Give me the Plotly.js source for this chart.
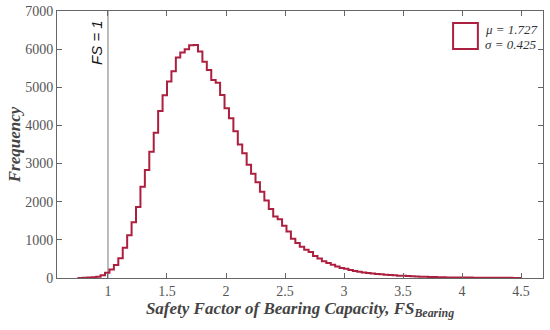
<!DOCTYPE html>
<html>
<head>
<meta charset="utf-8">
<script src="https://cdn.plot.ly/plotly-3.0.1.min.js"></script>
<style>html,body{margin:0;padding:0;background:#fff;}#chart{width:550px;height:330px;}</style>
</head>
<body>
<div id="chart"></div>
<script>
// Histogram: 100 bins from 0.75 to 4.5 (width 0.0375)
const binStart = 0.75;
const binWidth = 0.0375;
const counts = [
  3, 5, 10, 18, 35, 70, 140, 220, 340, 520,
  790, 1120, 1460, 1860, 2390, 2830, 3310, 3810, 4380, 4790,
  5150, 5420, 5780, 5910, 6000, 6100, 6110, 5940, 5670, 5450,
  5190, 5120, 4800, 4450, 4190, 3850, 3500, 3270, 2970, 2730,
  2510, 2260, 2030, 1810, 1610, 1540, 1370, 1220, 1030, 920,
  820, 740, 680, 580, 510, 440, 390, 345, 300, 260,
  240, 210, 185, 165, 145, 130, 118, 108, 98, 88,
  80, 72, 62, 56, 50, 44, 38, 34, 30, 26,
  23, 20, 18, 16, 14, 13, 12, 11, 10, 9,
  8, 7, 7, 6, 5, 5, 4, 4, 3, 3
];
const xTicks = [1, 1.5, 2, 2.5, 3, 3.5, 4, 4.5];
const xTickLabels = ["1", "1.5", "2", "2.5", "3", "3.5", "4", "4.5"];
const yTicks = [0, 1000, 2000, 3000, 4000, 5000, 6000, 7000];
const yTickLabels = ["0", "1000", "2000", "3000", "4000", "5000", "6000", "7000"];
const legendLines = ["μ = 1.727", "σ = 0.425"];
const fsLine = 1;

// build stairs outline from the bins
const sx = [binStart], sy = [0];
counts.forEach((c, k) => { sx.push(binStart + k * binWidth); sy.push(c); });
const lastEdge = binStart + counts.length * binWidth;
sx.push(lastEdge); sy.push(counts[counts.length - 1]);
sx.push(lastEdge); sy.push(0);

const red = '#ad1f3f';
const axisCol = '#666666';
const tickFont = {family: 'Liberation Serif, serif', size: 14, color: '#555555'};
const titleFont = {family: 'Liberation Serif, serif', size: 17, color: '#444444', weight: 'bold', style: 'italic'};

const traces = [
  {type: 'scatter', mode: 'lines', x: [fsLine, fsLine], y: [0, 7000],
   line: {color: '#777777', width: 1}, hoverinfo: 'skip', showlegend: false},
  {type: 'scatter', mode: 'lines', x: sx, y: sy, line: {color: red, width: 2, shape: 'hv'},
   showlegend: false}
];

const layout = {
  width: 550, height: 330,
  margin: {l: 57, r: 7, t: 11, b: 52},
  paper_bgcolor: '#ffffff', plot_bgcolor: '#ffffff',
  showlegend: false,
  xaxis: {
    range: [0.568, 4.686], tickvals: xTicks, ticktext: xTickLabels,
    ticks: 'inside', ticklen: 5, tickcolor: axisCol, tickwidth: 1,
    showline: true, linecolor: axisCol, linewidth: 1, mirror: 'ticks',
    showgrid: false, zeroline: false, tickfont: tickFont,
    title: {text: 'Safety Factor of Bearing Capacity, FS<sub>Bearing</sub>', font: titleFont, standoff: 3}
  },
  yaxis: {
    range: [0, 7000], tickvals: yTicks, ticktext: yTickLabels,
    ticks: 'inside', ticklen: 5, tickcolor: axisCol, tickwidth: 1,
    showline: true, linecolor: axisCol, linewidth: 1, mirror: 'ticks',
    showgrid: false, zeroline: false, tickfont: tickFont,
    title: {text: 'Frequency', font: titleFont, standoff: 0}
  },
  shapes: [
    {type: 'rect', xref: 'paper', yref: 'paper', x0: 0.815, x1: 0.866, y0: 0.858, y1: 0.955,
     line: {color: red, width: 2}, fillcolor: 'rgba(0,0,0,0)'}
  ],
  annotations: [
    {xref: 'paper', yref: 'paper', x: 0.876, y: 0.932, xanchor: 'left', yanchor: 'middle', showarrow: false,
     text: legendLines[0], font: {family: 'Liberation Serif, serif', size: 13, color: '#333333', style: 'italic'}},
    {xref: 'paper', yref: 'paper', x: 0.876, y: 0.876, xanchor: 'left', yanchor: 'middle', showarrow: false,
     text: legendLines[1], font: {family: 'Liberation Serif, serif', size: 13, color: '#333333', style: 'italic'}},
    {xref: 'x', yref: 'paper', x: fsLine, y: 0.884, xshift: -11, textangle: -90, showarrow: false,
     xanchor: 'center', yanchor: 'middle', text: 'FS = 1',
     font: {family: 'Liberation Sans, Arial, sans-serif', size: 15, color: '#111111', style: 'italic'}}
  ]
};

Plotly.newPlot('chart', traces, layout, {displayModeBar: false, staticPlot: true});
</script>
</body>
</html>
